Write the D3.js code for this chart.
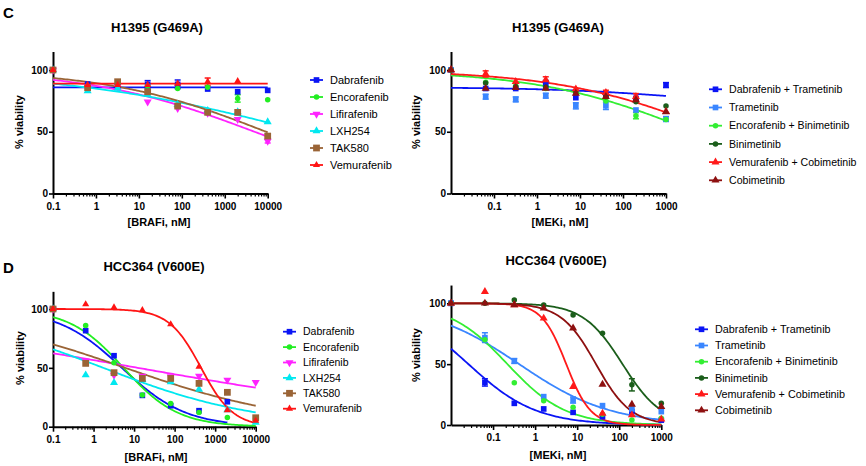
<!DOCTYPE html>
<html>
<head>
<meta charset="utf-8">
<script src="https://cdn.jsdelivr.net/npm/d3@7"></script>
<style>
body{margin:0;background:#fff;}
svg text{font-family:Arial,"Liberation Sans",Helvetica,sans-serif;fill:#000;}
</style>
</head>
<body>
<svg id="chart" width="866" height="466"></svg>
<script>
// concentrations, nM
var brafConc = [0.1, 0.64, 3.2, 16, 80, 400, 2000, 10000];
var mekConc = [0.01, 0.064, 0.32, 1.6, 8, 40, 200, 1000];
var brafTicks = [0.1, 1, 10, 100, 1000, 10000];
var mekTicks = [0.1, 1, 10, 100, 1000];
var yTicks = [0, 50, 100];

var brafNames = ["Dabrafenib", "Encorafenib", "Lifirafenib", "LXH254", "TAK580", "Vemurafenib"];
var mekNames = ["Dabrafenib + Trametinib", "Trametinib", "Encorafenib + Binimetinib", "Binimetinib", "Vemurafenib + Cobimetinib", "Cobimetinib"];
var brafColors = ["#0a14f5", "#22ee22", "#ff22ff", "#00e8f0", "#9a6436", "#ff1414"];
var mekColors = ["#0a14f5", "#3a86ff", "#33ee33", "#1b5e1b", "#ff1a1a", "#8e1010"];
var brafShapes = ["square", "circle", "down", "up", "bigsquare", "smallup"];
var mekShapes = ["square", "square", "circle", "circle", "up", "up"];

// % viability, H1395 (G469A), BRAFi
var h1395Braf = [
  [100, 88.6, 87, 88.4, 88.4, 84.6, 82.4, 83.5],
  [100, 87, 88, 87, 85, 86, 77, 76],
  [100, 86.5, 86.5, 74.3, 69, 65, 60, 42.4],
  [100, 83, 85, 80, 72, 67, 66, 58],
  [100, 85.7, 90.5, 82.4, 70.8, 65.7, 65.7, 46.5],
  [100, 88, 88, 88, 89, 90.5, 91, null]
];
// [series, conc index, sd]
var h1395BrafErr = [[0,3,3],[0,4,3.5],[5,5,3],[1,6,3],[2,7,1.5]];
// fitted curves: [top, bottom, IC50, hill, last conc]
var h1395BrafFit = [
  [86, 86, 1, 1, 10000],
  null,
  [100, 0, 4920, 0.226, 10000],
  [100, 0, 70400, 0.155, 10000],
  [100, 0, 9180, 0.233, 10000],
  [89, 89, 1, 1, 10000]
];

// % viability, H1395 (G469A), MEKi
var h1395Mek = [
  [100, 85, 85, 89, 77.6, 79.7, 77, 87.8],
  [100, 78.4, 76.2, 79.2, 71, 71, 67.6, 60.3],
  [100, 90, 87, 85, 82, 75, 63, 60],
  [100, 89.5, 86.5, 86, 82.4, 78.4, 74.3, 70.8],
  [100, 96.8, 90.5, 92, 84.6, 81.6, 78.4, 66.2],
  [100, 85, 85.7, 85, 81, 78.4, 75.7, 66]
];
var h1395MekErr = [[0,3,2.5],[0,7,2],[1,1,2],[1,2,2],[1,3,2],[1,4,2.5],[1,5,3],[1,7,2],[2,6,2.5],[4,1,2.5],[4,3,2.5],[4,5,2],[4,6,2.5]];
var h1395MekFit = [
  [86, 70, 2430, 0.2825, 1000],
  null,
  [100, 0, 4560, 0.237, 1000],
  null,
  [100, 0, 15500, 0.237, 1000],
  null
];

// % viability, HCC364 (V600E), BRAFi
var hcc364Braf = [
  [100, 81.6, 60.3, 26.6, 17.8, 13.6, 21.2, null],
  [100, 86, 54.4, 27, 19.8, 12, 7.9, 7],
  [100, 55.8, 43.9, 43, 42.5, 43, 39.7, 37.7],
  [100, 43.9, 37.4, 40, 38, 31.7, 14.2, 3.7],
  [100, 53.8, 45.9, 41, 41, 36.8, 29.2, 7.6],
  [100, 104, 101.4, 99, 87, 51, 14, 5]
];
var hcc364BrafErr = [];
var hcc364BrafFit = [
  [100, 0, 5, 0.55, 2000],
  [100, 0, 5.5, 0.65, 10000],
  [100, 0, 12.4, 0.105, 10000],
  [100, 0, 1.74, 0.228, 10000],
  [100, 0, 6.06, 0.2065, 10000],
  [100, 0, 450, 1.1, 10000]
];

// % viability, HCC364 (V600E), MEKi
var hcc364Mek = [
  [100, 35, 17.8, 13.2, 10.4, 6.8, 11, 4],
  [100, 71.8, 52.6, 23.3, 20.5, 15.9, 13.2, 11],
  [100, 70, 34.8, 20, 14.5, 8.8, 4.1, 5.5],
  [100, 100, 102.7, 98.6, 90.4, 75.3, 33, 17.8],
  [100, 109.6, 98.6, 87.7, 31.5, 9.6, 8.2, 4.7],
  [100, 100, 98.6, 95.9, 79.5, 33.4, 17, 15]
];
var hcc364MekErr = [[0,1,3],[1,1,4],[1,2,2],[1,4,2.5],[3,6,5]];
var hcc364MekFit = [
  [100, 0, 0.026, 0.54, 1000],
  [100, 0, 0.417, 0.4, 1000],
  [100, 0, 0.22, 0.63, 1000],
  [100, 0, 120, 0.93, 1000],
  [100, 0, 5.5, 1.5, 1000],
  [100, 0, 28, 1.05, 1000]
];

var svg = d3.select("#chart");

function shapePath(s){
  if(s == "square") return d3.symbol().type(d3.symbolSquare).size(32)();
  if(s == "bigsquare") return d3.symbol().type(d3.symbolSquare).size(46)();
  if(s == "circle") return d3.symbol().type(d3.symbolCircle).size(24)();
  if(s == "smallup") return d3.symbol().type(d3.symbolTriangle).size(22)();
  return d3.symbol().type(d3.symbolTriangle).size(28)();
}
function drawMark(g, s, color, px, py){
  g.append("path")
    .attr("d", shapePath(s))
    .attr("fill", color)
    .attr("transform", "translate(" + px + "," + py + ")" + (s == "down" ? " rotate(180)" : ""));
}

function drawPanel(p){
  var g = svg.append("g");
  var x = d3.scaleLog().domain([p.conc[0], p.conc[p.conc.length - 1]]).range([p.x0, p.x1]);
  var y = d3.scaleLinear().domain([0, 100]).range([p.y0, p.y100]);
  var yAx = d3.scaleLinear().domain([0, 115]).range([p.y0, y(115)]);

  // minor ticks on log axis
  var minors = [];
  var lo = Math.floor(Math.log10(p.conc[0])), hi = Math.ceil(Math.log10(p.conc[p.conc.length - 1]));
  for(var d = lo; d < hi; d++){
    for(var k = 2; k <= 9; k++){
      var v = k * Math.pow(10, d);
      if(v > p.conc[0] && v < p.conc[p.conc.length - 1]) minors.push(v);
    }
  }
  g.append("g")
    .attr("transform", "translate(0," + p.y0 + ")")
    .call(d3.axisBottom(x).tickValues(minors).tickSize(3).tickSizeOuter(0).tickFormat(""))
    .call(function(a){ a.select(".domain").remove(); a.selectAll("line").attr("stroke-width", 1.2); });
  var xa = g.append("g")
    .attr("transform", "translate(0," + p.y0 + ")")
    .call(d3.axisBottom(x).tickValues(p.ticks).tickSize(5).tickSizeOuter(0).tickPadding(4)
      .tickFormat(function(d){ return String(d); }));
  xa.select(".domain").attr("stroke-width", 2);
  xa.selectAll("line").attr("stroke-width", 1.6);
  xa.selectAll("text").attr("font-size", "10px").attr("font-weight", "bold").attr("fill", "#000");

  var ya = g.append("g")
    .attr("transform", "translate(" + p.x0 + ",0)")
    .call(d3.axisLeft(yAx).tickValues(yTicks).tickSize(4).tickSizeOuter(0).tickPadding(1));
  ya.select(".domain").attr("stroke-width", 2);
  ya.selectAll("line").attr("stroke-width", 1.6);
  ya.selectAll("text").attr("font-size", "10px").attr("font-weight", "bold").attr("fill", "#000");

  // fitted curves
  var line = d3.line().x(function(d){ return x(d[0]); }).y(function(d){ return y(d[1]); });
  p.fits.forEach(function(f, i){
    if(!f) return;
    var pts = [];
    var a = Math.log10(p.conc[0]), b = Math.log10(f[4]);
    for(var j = 0; j <= 120; j++){
      var c = Math.pow(10, a + (b - a) * j / 120);
      pts.push([c, f[1] + (f[0] - f[1]) / (1 + Math.pow(c / f[2], f[3]))]);
    }
    g.append("path").attr("d", line(pts)).attr("fill", "none")
      .attr("stroke", p.colors[i]).attr("stroke-width", 1.8);
  });

  // error bars
  p.errs.forEach(function(e){
    var v = p.data[e[0]][e[1]], px = x(p.conc[e[1]]);
    var col = p.colors[e[0]];
    g.append("line").attr("x1", px).attr("x2", px).attr("y1", y(v - e[2])).attr("y2", y(v + e[2]))
      .attr("stroke", col).attr("stroke-width", 1.5);
    [v - e[2], v + e[2]].forEach(function(t){
      g.append("line").attr("x1", px - 3).attr("x2", px + 3).attr("y1", y(t)).attr("y2", y(t))
        .attr("stroke", col).attr("stroke-width", 1.5);
    });
  });

  // points
  p.data.forEach(function(s, i){
    s.forEach(function(v, j){
      if(v == null) return;
      drawMark(g, p.shapes[i], p.colors[i], x(p.conc[j]), y(v));
    });
  });

  // titles
  g.append("text").attr("x", p.titleX).attr("y", p.titleY).attr("text-anchor", "middle")
    .attr("font-size", "13px").attr("font-weight", "bold").text(p.title);
  g.append("text").attr("x", p.titleX + 2).attr("y", p.xlabY).attr("text-anchor", "middle")
    .attr("font-size", "11px").attr("font-weight", "bold").text(p.xlab);
  g.append("text").attr("transform", "translate(" + p.ylabX + "," + p.ylabY + ") rotate(-90)")
    .attr("text-anchor", "middle").attr("dy", "0.35em")
    .attr("font-size", "11px").attr("font-weight", "bold").text("% viability");

  // legend
  p.names.forEach(function(n, i){
    var ly = p.legY + i * p.legDy;
    g.append("line").attr("x1", p.legX).attr("x2", p.legX + 13).attr("y1", ly).attr("y2", ly)
      .attr("stroke", p.colors[i]).attr("stroke-width", 1.8);
    drawMark(g, p.shapes[i], p.colors[i], p.legX + 6.5, ly);
    g.append("text").attr("x", p.legX + 20).attr("y", ly).attr("dy", "0.35em")
      .attr("font-size", p.legFont).text(n);
  });
}

drawPanel({conc: brafConc, ticks: brafTicks, data: h1395Braf, errs: h1395BrafErr, fits: h1395BrafFit,
  names: brafNames, colors: brafColors, shapes: brafShapes,
  x0: 53, x1: 267.7, y0: 193.5, y100: 70,
  title: "H1395 (G469A)", titleX: 157, titleY: 31.5, xlab: "[BRAFi, nM]", xlabY: 226,
  ylabX: 19.5, ylabY: 122, legX: 310, legY: 80, legDy: 17, legFont: "11px"});

drawPanel({conc: mekConc, ticks: mekTicks, data: h1395Mek, errs: h1395MekErr, fits: h1395MekFit,
  names: mekNames, colors: mekColors, shapes: mekShapes,
  x0: 451, x1: 666, y0: 193.5, y100: 70,
  title: "H1395 (G469A)", titleX: 558, titleY: 31.5, xlab: "[MEKi, nM]", xlabY: 226,
  ylabX: 416.5, ylabY: 122, legX: 709, legY: 89.3, legDy: 18.2, legFont: "10.6px"});

drawPanel({conc: brafConc, ticks: brafTicks, data: hcc364Braf, errs: hcc364BrafErr, fits: hcc364BrafFit,
  names: brafNames, colors: brafColors, shapes: brafShapes,
  x0: 53, x1: 255.7, y0: 426.7, y100: 309,
  title: "HCC364 (V600E)", titleX: 154, titleY: 271, xlab: "[BRAFi, nM]", xlabY: 461,
  ylabX: 20, ylabY: 358, legX: 283, legY: 331.7, legDy: 15.4, legFont: "10.5px"});

drawPanel({conc: mekConc, ticks: mekTicks, data: hcc364Mek, errs: hcc364MekErr, fits: hcc364MekFit,
  names: mekNames, colors: mekColors, shapes: mekShapes,
  x0: 451, x1: 661.3, y0: 425, y100: 303.3,
  title: "HCC364 (V600E)", titleX: 556, titleY: 265, xlab: "[MEKi, nM]", xlabY: 459,
  ylabX: 416.5, ylabY: 355, legX: 695, legY: 329.3, legDy: 16.2, legFont: "10.8px"});

// panel letters
svg.append("text").attr("x", 3).attr("y", 18).attr("font-size", "15px").attr("font-weight", "bold").text("C");
svg.append("text").attr("x", 3).attr("y", 273).attr("font-size", "15px").attr("font-weight", "bold").text("D");
</script>
</body>
</html>
